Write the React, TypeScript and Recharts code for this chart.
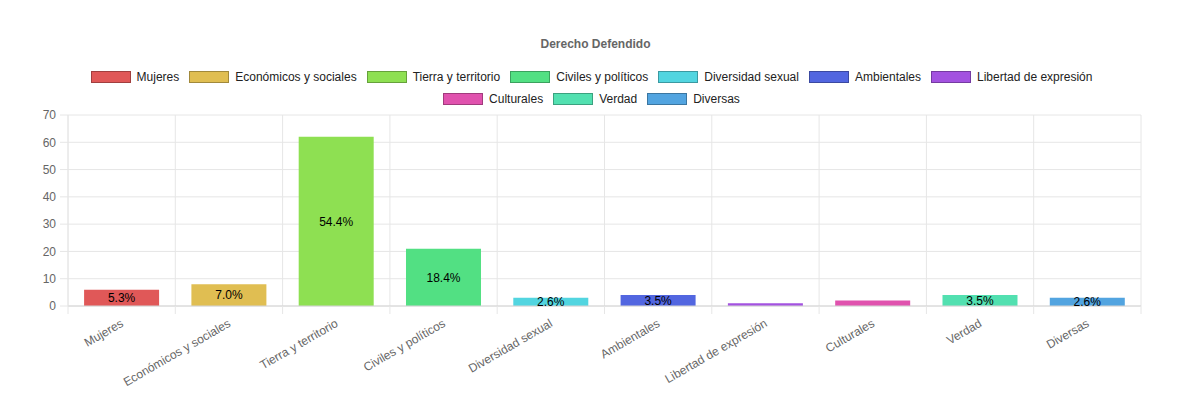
import { BarChart, Bar, XAxis, YAxis, CartesianGrid, Cell, LabelList } from "recharts";

const categories = [
  "Mujeres",
  "Económicos y sociales",
  "Tierra y territorio",
  "Civiles y políticos",
  "Diversidad sexual",
  "Ambientales",
  "Libertad de expresión",
  "Culturales",
  "Verdad",
  "Diversas",
];

// number of cases per right defended
const counts = [6, 8, 62, 21, 3, 4, 1, 2, 4, 3];

// share labels as printed on the bars (small ones have none)
const shareLabels = ["5.3%", "7.0%", "54.4%", "18.4%", "2.6%", "3.5%", "", "", "3.5%", "2.6%"];

const colors = [
  "#e05858",
  "#e0be52",
  "#8ee052",
  "#52e083",
  "#52d5e0",
  "#5266e0",
  "#a352e0",
  "#e052ae",
  "#52e0b0",
  "#52a4e0",
];

const yTicks = [0, 10, 20, 30, 40, 50, 60, 70];

const WIDTH = 1175;
const HEIGHT = 393;
const MARGIN = { top: 107, right: 42, left: 0, bottom: 15 };
const Y_WIDTH = 60;
const BAND = (WIDTH - MARGIN.left - MARGIN.right - Y_WIDTH) / categories.length;

const GRID = "#e6e6e6";
const FONT = "'Liberation Sans', Arial, Helvetica, sans-serif";

const chartData = categories.map((name, i) => ({
  name,
  count: counts[i],
  share: shareLabels[i],
}));

const legendRows = [categories.slice(0, 7), categories.slice(7)];

function CategoryTick(props: any) {
  const { x, y, payload, index } = props;
  const half = payload?.offset || BAND / 2;
  const left = x - half;
  const ly = y + 17;
  return (
    <g>
      <line x1={left} x2={left} y1={y} y2={y + 8} stroke={GRID} />
      {index === categories.length - 1 && (
        <line x1={x + half} x2={x + half} y1={y} y2={y + 8} stroke={GRID} />
      )}
      <text
        x={x + 1}
        y={ly}
        textAnchor="end"
        dominantBaseline="middle"
        transform={`rotate(-30 ${x + 1} ${ly})`}
        fill="#666"
        fontSize={12}
      >
        {payload.value}
      </text>
    </g>
  );
}

function LegendItem({ name, color, last }: { name: string; color: string; last: boolean }) {
  return (
    <div style={{ display: "flex", alignItems: "center", marginRight: last ? 0 : 10 }}>
      <span
        style={{
          width: 40,
          height: 12,
          boxSizing: "border-box",
          background: color,
          border: "1px solid rgba(0,0,0,0.28)",
        }}
      />
      <span style={{ marginLeft: 6, fontSize: 12, lineHeight: "12px", color: "#222" }}>{name}</span>
    </div>
  );
}

export default function App() {
  return (
    <div style={{ position: "relative", width: WIDTH, height: HEIGHT, fontFamily: FONT }}>
      <BarChart
        width={WIDTH}
        height={HEIGHT}
        data={chartData}
        margin={MARGIN}
        barCategoryGap="15%"
        style={{ fontFamily: FONT }}
      >
        <CartesianGrid
          stroke={GRID}
          verticalCoordinatesGenerator={({ offset }: any) =>
            Array.from(
              { length: categories.length + 1 },
              (_, i) => offset.left + (i * offset.width) / categories.length
            )
          }
        />
        <XAxis
          dataKey="name"
          interval={0}
          height={80}
          tickSize={0}
          tickMargin={0}
          tickLine={false}
          axisLine={{ stroke: "#d4d4d4" }}
          tick={<CategoryTick />}
        />
        <YAxis
          width={Y_WIDTH}
          domain={[0, 70]}
          ticks={yTicks}
          interval={0}
          tickSize={8}
          tickMargin={4}
          tickLine={{ stroke: GRID }}
          axisLine={{ stroke: GRID }}
          tick={{ fill: "#666", fontSize: 12 }}
        />
        <Bar dataKey="count" isAnimationActive={false}>
          {chartData.map((d, i) => (
            <Cell key={d.name} fill={colors[i]} />
          ))}
          <LabelList dataKey="share" position="center" fill="#000" fontSize={12} />
        </Bar>
      </BarChart>

      <div
        style={{
          position: "absolute",
          top: 29,
          left: 0,
          width: WIDTH,
          textAlign: "center",
          fontSize: 12,
          lineHeight: "14px",
          fontWeight: "bold",
          color: "#666",
        }}
      >
        Derecho Defendido
      </div>

      <div
        style={{
          position: "absolute",
          top: 63,
          left: -4,
          width: WIDTH,
          display: "flex",
          flexDirection: "column",
          alignItems: "center",
          gap: 10,
        }}
      >
        {legendRows.map((row, r) => (
          <div key={r} style={{ display: "flex" }}>
            {row.map((name, i) => (
              <LegendItem
                key={name}
                name={name}
                color={colors[categories.indexOf(name)]}
                last={i === row.length - 1}
              />
            ))}
          </div>
        ))}
      </div>
    </div>
  );
}
